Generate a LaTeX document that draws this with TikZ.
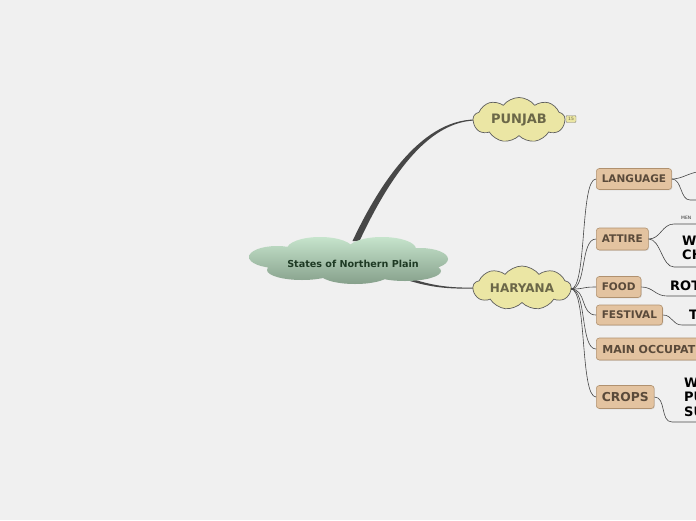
\documentclass[tikz,border=0pt]{standalone}
\usepackage{fontspec}
\setmainfont{DejaVu Sans}
\usetikzlibrary{shapes.symbols,calc,shadows}
\definecolor{bg}{HTML}{F0F0F0}
\definecolor{ctop}{HTML}{C6E4CC}
\definecolor{cbot}{HTML}{86A08B}
\definecolor{ctext}{HTML}{1E3A24}
\definecolor{yfill}{HTML}{EBE6A4}
\definecolor{yline}{HTML}{5E5E5E}
\definecolor{ytext}{HTML}{6B6748}
\definecolor{sfill}{HTML}{E3C3A0}
\definecolor{sline}{HTML}{B0916F}
\definecolor{stext}{HTML}{5A4A3A}
\definecolor{conn}{HTML}{474747}
\tikzset{
  ycloud/.style={cloud, cloud puffs=9, cloud puff arc=105, cloud ignores aspect, draw=yline, fill=yfill,
    line width=0.7pt, minimum width=92pt, minimum height=45pt, inner sep=0pt, text=ytext,
    font=\bfseries\fontsize{12}{14}\selectfont},
  subbox/.style={draw=sline, fill=sfill, rounded corners=3pt, text=stext, anchor=west,
    inner xsep=5.5pt, inner ysep=0pt, line width=0.6pt,
    font=\bfseries\fontsize{10.5}{12}\selectfont,
    drop shadow={opacity=0.2, shadow xshift=0.8pt, shadow yshift=-0.8pt}},
  leaf/.style={anchor=west, inner sep=0pt, text=black, font=\bfseries\fontsize{13}{15}\selectfont},
  thinconn/.style={draw=conn, line width=0.6pt},
  badge/.style={draw=gray, fill=yfill, rounded corners=1pt, text=ytext, inner sep=0.6pt,
    minimum width=10pt, minimum height=7pt, font=\fontsize{4.5}{5}\selectfont}
}
\begin{document}
\begin{tikzpicture}[x=1pt,y=-1pt]
\useasboundingbox (0,0) rectangle (696,520);
\clip (0,0) rectangle (696,520);
\fill[bg] (0,0) rectangle (696,520);

% tapered main connectors
\coordinate (pa) at (356,241);
\coordinate (pb) at (475,120);
\fill[conn] ($(pa)+(-3.5,0)$) .. controls ($(pa)+(21,-52)$) and ($(pb)+(-56,0)$) .. ($(pb)+(0,-0.5)$)
  -- ($(pb)+(0,0.5)$) .. controls ($(pb)+(-53,2)$) and ($(pa)+(27,-50)$) .. ($(pa)+(3.5,0)$) -- cycle;
\coordinate (ha) at (408,279);
\coordinate (hb) at (475,288);
\fill[conn] ($(ha)+(0,-1.4)$) .. controls ($(ha)+(25,7)$) and ($(hb)+(-25,0)$) .. ($(hb)+(0,-0.5)$)
  -- ($(hb)+(0,0.5)$) .. controls ($(hb)+(-25,1)$) and ($(ha)+(25,9)$) .. ($(ha)+(0,1.4)$) -- cycle;

% central cloud
\shade[top color=ctop, bottom color=cbot]
  (277,257) ellipse [x radius=28pt, y radius=11pt]
  (320,249) ellipse [x radius=33pt, y radius=12pt]
  (382,249) ellipse [x radius=34pt, y radius=12pt]
  (420,259) ellipse [x radius=28pt, y radius=11pt]
  (302,270) ellipse [x radius=35pt, y radius=10pt]
  (355,273) ellipse [x radius=36pt, y radius=11pt]
  (405,271) ellipse [x radius=36pt, y radius=10pt]
  (353,262) ellipse [x radius=75pt, y radius=16pt];
\node[text=ctext, font=\bfseries\fontsize{9.6}{12}\selectfont] (ctr) at (353,264) {States of Northern Plain};

% main topics
\node[ycloud, font=\bfseries\fontsize{13}{15}\selectfont] (punjab) at (519,120) {PUNJAB};
\node[badge] (b15) at (571,119) {15};
\node[ycloud, minimum width=98pt, minimum height=44pt] (haryana) at (522,288) {HARYANA};

% subtopics
\node[subbox, minimum height=21pt] (lang) at (596,179) {LANGUAGE};
\node[subbox, minimum height=22pt] (att) at (596,239) {ATTIRE};
\node[subbox, minimum height=21pt] (food) at (596,287) {FOOD};
\node[subbox, minimum height=20pt] (fest) at (596,315) {FESTIVAL};
\node[subbox, minimum height=22pt, minimum width=112pt, align=left, text width=100pt,
  font=\bfseries\fontsize{11}{12}\selectfont] (occ) at (596,349) {MAIN OCCUPAT};
\node[subbox, minimum height=23pt, font=\bfseries\fontsize{12.3}{14}\selectfont] (crops) at (596,397) {CROPS};

\coordinate (hx) at (571,289);
\foreach \s in {lang,att,food,fest,occ,crops}
  \draw[thinconn] (hx) .. controls +(16,0) and +(-16,0) .. (\s.west);

% leaves
\coordinate (l1) at (697,172);
\coordinate (l2) at (697,200);
\draw[thinconn] (lang.east) .. controls +(9,0) and +(-10,2) .. (l1);
\draw[thinconn] (lang.east) .. controls +(10,0) and +(-10,0) .. (690,200) -- (l2);

\node[anchor=west, inner sep=0pt, text=black!80, font=\fontsize{4.5}{5}\selectfont] (men) at (681,218) {MEN};
\coordinate (a1) at (697,224);
\draw[thinconn] (att.east) .. controls +(12,0) and +(-12,0) .. (674,224) -- (a1);
\node[leaf] (w1) at (682,241) {W};
\node[leaf] (ch) at (682,255) {CH};
\coordinate (a2) at (697,267);
\draw[thinconn] (att.east) .. controls +(12,0) and +(-12,0) .. (674,267) -- (a2);

\node[leaf] (rot) at (670,286) {ROT};
\coordinate (f1) at (697,296);
\draw[thinconn] (food.east) .. controls +(12,0) and +(-12,0) .. (667,296) -- (f1);

\node[leaf] (t1) at (689,315) {T};
\coordinate (e1) at (697,325);
\draw[thinconn] (fest.east) .. controls +(10,0) and +(-10,0) .. (682,325) -- (e1);

\node[leaf] (w2) at (684,383) {W};
\node[leaf] (pu) at (684,397) {PU};
\node[leaf] (su) at (684,412) {SU};
\coordinate (c1) at (697,422);
\draw[thinconn] (crops.east) .. controls +(12,0) and +(-12,0) .. (672,422) -- (c1);
\end{tikzpicture}
\end{document}
